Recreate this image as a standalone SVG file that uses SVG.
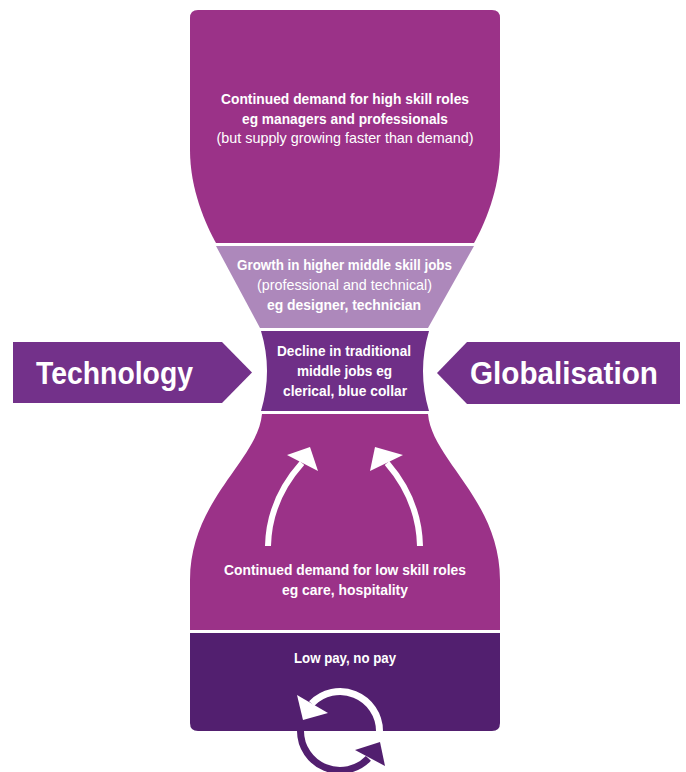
<svg xmlns="http://www.w3.org/2000/svg" width="686" height="772" viewBox="0 0 686 772">
<style>
text { font-family: "Liberation Sans Narrow", "Liberation Sans", Arial, sans-serif; fill: #ffffff; text-anchor: middle; }
.b { font-weight: bold; font-size: 15px; }
.r { font-weight: normal; font-size: 15px; }
.big { font-weight: bold; font-size: 32px; }
.mag { fill: #9B3288; }
.light { fill: #AD88BB; }
.decl { fill: #6F2F87; }
.push { fill: #73318A; }
.dark { fill: #521F6F; }
.wline { fill: none; stroke: #ffffff; stroke-width: 6; }
</style>
<rect width="686" height="772" fill="#ffffff"/>

<g id="high-skill">
  <path class="mag" d="M190 18 Q190 10 198 10 H492 Q500 10 500 18 V150 C500 190 484 225 474 243 H216 C206 225 190 190 190 150 Z"/>
  <text class="b" x="345" y="104" textLength="248" lengthAdjust="spacingAndGlyphs">Continued demand for high skill roles</text>
  <text class="b" x="345" y="124" textLength="206" lengthAdjust="spacingAndGlyphs">eg managers and professionals</text>
  <text class="r" x="345" y="143" textLength="257" lengthAdjust="spacingAndGlyphs">(but supply growing faster than demand)</text>
</g>

<g id="higher-middle">
  <path class="light" d="M216 246 H474 L428 328 H260 Z"/>
  <text class="b" x="344.5" y="270" textLength="215" lengthAdjust="spacingAndGlyphs">Growth in higher middle skill jobs</text>
  <text class="r" x="344.5" y="290" textLength="175" lengthAdjust="spacingAndGlyphs">(professional and technical)</text>
  <text class="b" x="344" y="310" textLength="154" lengthAdjust="spacingAndGlyphs">eg designer, technician</text>
</g>

<g id="decline">
  <path class="decl" d="M261 331 H429 Q417 371 429 411 H261 Q273 371 261 331 Z"/>
  <text class="b" x="344" y="356" textLength="134" lengthAdjust="spacingAndGlyphs">Decline in traditional</text>
  <text class="b" x="344.5" y="376" textLength="95" lengthAdjust="spacingAndGlyphs">middle jobs eg</text>
  <text class="b" x="345" y="396" textLength="124" lengthAdjust="spacingAndGlyphs">clerical, blue collar</text>
</g>

<g id="technology">
  <path class="push" d="M13 342 H222 L252 372.5 L222 403 H13 Z"/>
  <text class="big" x="114.5" y="384" textLength="157" lengthAdjust="spacingAndGlyphs">Technology</text>
</g>

<g id="globalisation">
  <path class="push" d="M680 342 H467 L437 373 L467 404 H680 Z"/>
  <text class="big" x="564" y="384" textLength="188" lengthAdjust="spacingAndGlyphs">Globalisation</text>
</g>

<g id="low-skill">
  <path class="mag" d="M262 414 H428 C432 460 500 500 500 580 V630 H190 V580 C190 500 258 460 262 414 Z"/>
  <text class="b" x="345" y="575" textLength="242" lengthAdjust="spacingAndGlyphs">Continued demand for low skill roles</text>
  <text class="b" x="345" y="595" textLength="126" lengthAdjust="spacingAndGlyphs">eg care, hospitality</text>
</g>

<g id="connectors">
  <path class="wline" d="M268 546 Q269 500 302 463"/>
  <path fill="#ffffff" d="M287 455 L310 447 L318 471 Z"/>
  <path class="wline" d="M420 546 Q419 500 387 463"/>
  <path fill="#ffffff" d="M403 455 L375 447 L370 471 Z"/>
</g>

<g id="low-pay">
  <path class="dark" d="M190 633 H500 V723 Q500 731 492 731 H198 Q190 731 190 723 Z"/>
  <text class="b" x="345" y="663" textLength="102" lengthAdjust="spacingAndGlyphs">Low pay, no pay</text>
  <g id="cycle-icon">
    <path d="M379.5 731 A39.5 39.5 0 0 0 311.6 703.6" fill="none" stroke="#ffffff" stroke-width="7"/>
    <path fill="#ffffff" d="M297 695 L328 713 L303 720 Z"/>
    <path d="M300.5 731 A39.5 39.5 0 0 0 368.4 758.4" fill="none" stroke="#521F6F" stroke-width="7"/>
    <path fill="#521F6F" d="M355 750 L380 742 L385 766 Z"/>
  </g>
</g>
</svg>
